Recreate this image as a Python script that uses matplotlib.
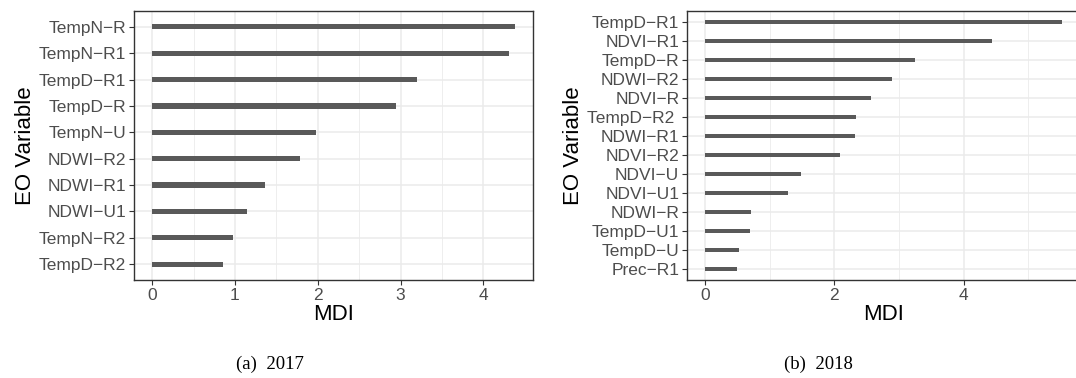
import matplotlib.pyplot as plt
import numpy as np

# 2017 panel (top to bottom)
vars_2017 = ['TempN−R', 'TempN−R1', 'TempD−R1', 'TempD−R', 'TempN−U',
             'NDWI−R2', 'NDWI−R1', 'NDWI−U1', 'TempN−R2', 'TempD−R2']
mdi_2017 = [4.38, 4.31, 3.20, 2.95, 1.98, 1.78, 1.36, 1.15, 0.98, 0.85]

# 2018 panel (top to bottom)
vars_2018 = ['TempD−R1', 'NDVI−R1', 'TempD−R', 'NDWI−R2', 'NDVI−R', 'TempD−R2 ',
             'NDWI−R1', 'NDVI−R2', 'NDVI−U', 'NDVI−U1', 'NDWI−R', 'TempD−U1',
             'TempD−U', 'Prec−R1']
mdi_2018 = [5.52, 4.43, 3.25, 2.89, 2.57, 2.34, 2.32, 2.09, 1.48, 1.28,
            0.72, 0.69, 0.52, 0.50]

plt.rcParams['font.family'] = ['Liberation Sans', 'DejaVu Sans']

W, H = 1076, 378
fig = plt.figure(figsize=(W / 100, H / 100), dpi=100)


def panel(rect, names, vals, major, minor, caption, cap_x):
    l, t, r, b = rect
    ax = fig.add_axes([l / W, 1 - b / H, (r - l) / W, (b - t) / H])
    n = len(names)
    y = np.arange(n)[::-1] + 1
    ax.barh(y, vals, height=0.2, color='#595959', zorder=3)
    ax.set_yticks(y)
    ax.set_yticklabels(names)
    ax.set_ylim(0.4, n + 0.6)
    ax.set_xlim(-0.05 * max(vals), 1.05 * max(vals))
    ax.set_xticks(major)
    ax.set_xticks(minor, minor=True)
    ax.grid(True, which='major', color='#EBEBEB', lw=1.1, zorder=0)
    ax.grid(True, which='minor', axis='x', color='#EBEBEB', lw=0.6, zorder=0)
    ax.tick_params(which='major', length=3.5, width=0.8, color='#333333',
                   labelsize=12.5, labelcolor='#4D4D4D', pad=2)
    ax.tick_params(which='minor', length=0)
    for s in ax.spines.values():
        s.set_color('#333333')
        s.set_linewidth(1.0)
    ax.set_xlabel('MDI', fontsize=16, labelpad=1)
    ax.set_ylabel('EO Variable', fontsize=16, labelpad=2)
    fig.text(cap_x / W, 1 - 364 / H, caption, ha='center', va='center',
             fontsize=13.5, family='Liberation Serif')
    return ax


panel((134, 11, 533, 280), vars_2017, mdi_2017, [0, 1, 2, 3, 4],
      [0.5, 1.5, 2.5, 3.5], '(a)  2017', 270)
panel((687, 11, 1080, 280), vars_2018, mdi_2018, [0, 2, 4],
      [1, 3, 5], '(b)  2018', 818)

fig.savefig('out.png', dpi=100)
